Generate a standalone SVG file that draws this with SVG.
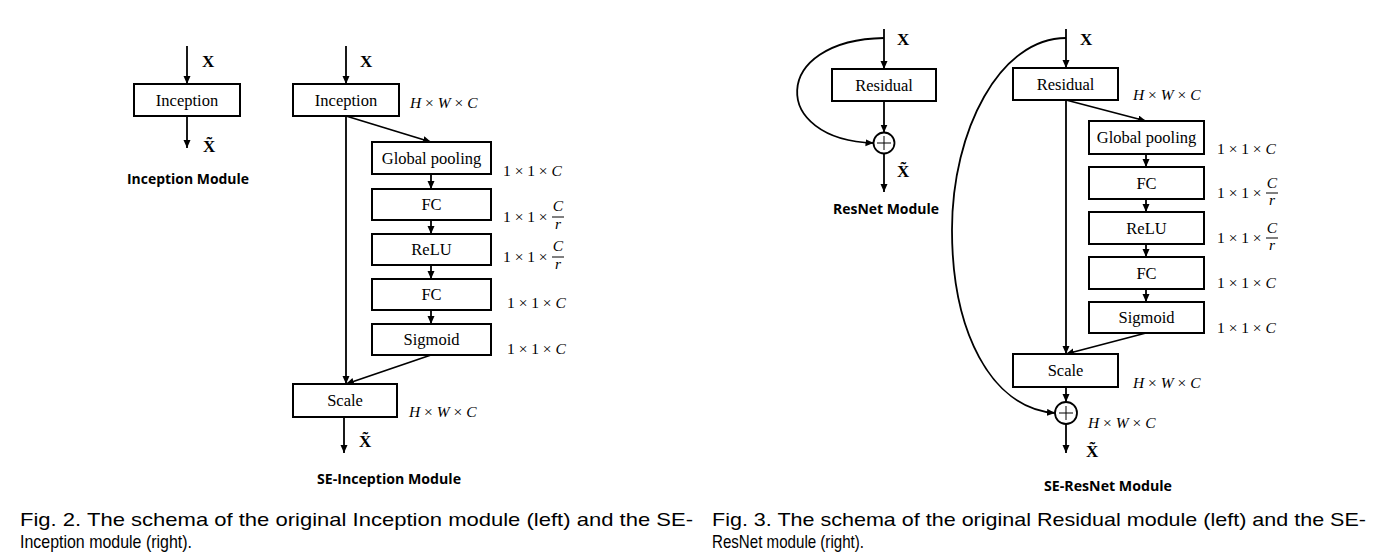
<svg xmlns="http://www.w3.org/2000/svg" width="1386" height="558" viewBox="0 0 1386 558">
<defs>
<marker id="ah" markerUnits="userSpaceOnUse" markerWidth="9" markerHeight="8" refX="8" refY="3.5" orient="auto">
<path d="M0,0 L8,3.5 L0,7 z" fill="#000"/>
</marker>
<style>
.box{fill:#fff;stroke:#000;stroke-width:2}
.lbl{font-family:"Liberation Serif","Times New Roman",serif;font-size:16.5px;text-anchor:middle;fill:#000}
.conn path,.conn line{stroke:#000;stroke-width:1.8;fill:none}
.arr{marker-end:url(#ah)}
.X{font-family:"Liberation Serif",serif;font-weight:bold;font-size:17px;fill:#000}
.dim{font-family:"Liberation Serif",serif;font-size:15.5px;fill:#000}
.it{font-style:italic}
.mod{font-family:"Open Sans","Liberation Sans",sans-serif;font-weight:bold;font-size:14.5px;text-anchor:middle;fill:#000}
.cap{font-family:"Liberation Sans",Arial,sans-serif;font-size:19px;fill:#000}
.cap2{font-family:"Liberation Sans",Arial,sans-serif;font-size:18.5px;fill:#000}
.sum{fill:#fff;stroke:#000;stroke-width:1.8}
.plus{stroke:#000;stroke-width:1}
.frac{stroke:#000;stroke-width:1}
</style>
</defs>
<rect width="1386" height="558" fill="#fff"/>

<!-- connectors -->
<g class="conn" id="connectors">
<!-- Inception module -->
<line class="arr" x1="187" y1="46" x2="187" y2="84"/>
<line class="arr" x1="187" y1="116" x2="187" y2="148"/>
<!-- SE-Inception -->
<line class="arr" x1="346" y1="46" x2="346" y2="84"/>
<line class="arr" x1="346" y1="116" x2="346" y2="384"/>
<line class="arr" x1="346" y1="116" x2="431" y2="142"/>
<line class="arr" x1="431" y1="174" x2="431" y2="189"/>
<line class="arr" x1="431" y1="220" x2="431" y2="234"/>
<line class="arr" x1="431" y1="265" x2="431" y2="279"/>
<line class="arr" x1="431" y1="310" x2="431" y2="324"/>
<line class="arr" x1="431" y1="355" x2="346" y2="384"/>
<line class="arr" x1="344" y1="417" x2="344" y2="453"/>
<!-- ResNet -->
<line class="arr" x1="884" y1="29" x2="884" y2="69"/>
<line class="arr" x1="884" y1="101" x2="884" y2="132.5"/>
<path class="arr" d="M884,38 C770,40 770,140 873.5,143"/>
<line class="arr" x1="884" y1="153.5" x2="884" y2="192"/>
<!-- SE-ResNet -->
<line class="arr" x1="1066" y1="29" x2="1066" y2="68"/>
<line class="arr" x1="1066" y1="100" x2="1066" y2="354"/>
<line class="arr" x1="1066" y1="100" x2="1146" y2="121"/>
<line class="arr" x1="1146" y1="154" x2="1146" y2="167"/>
<line class="arr" x1="1146" y1="199" x2="1146" y2="212"/>
<line class="arr" x1="1146" y1="244" x2="1146" y2="257"/>
<line class="arr" x1="1146" y1="289" x2="1146" y2="302"/>
<line class="arr" x1="1146" y1="333" x2="1066" y2="354"/>
<line class="arr" x1="1066" y1="387" x2="1066" y2="402"/>
<path class="arr" d="M1066,38 C1000,38 952,130 952,230 C952,330 990,408 1055,413"/>
<line class="arr" x1="1066" y1="424" x2="1066" y2="453"/>
</g>

<!-- Inception module -->
<g id="inc-in"><text class="X" x="202" y="67">X</text></g>
<g id="inc-box"><rect class="box" x="134" y="84" width="106" height="32"/><text class="lbl" x="187" y="106">Inception</text></g>
<g id="inc-out"><text class="X" x="203" y="152">X̃</text></g>
<g id="inc-title"><text class="mod" x="188" y="184" textLength="122" lengthAdjust="spacingAndGlyphs">Inception Module</text></g>

<!-- SE-Inception -->
<g id="sei-in"><text class="X" x="360" y="67">X</text></g>
<g id="sei-inception"><rect class="box" x="293" y="84" width="106" height="32"/><text class="lbl" x="346" y="106">Inception</text>
<text class="dim" x="410" y="108"><tspan class="it">H</tspan> × <tspan class="it">W</tspan> × <tspan class="it">C</tspan></text></g>
<g id="sei-gp"><rect class="box" x="372" y="142" width="119" height="32"/><text class="lbl" x="431.5" y="164">Global pooling</text>
<text class="dim" x="503" y="176">1 × 1 × <tspan class="it">C</tspan></text></g>
<g id="sei-fc1"><rect class="box" x="372" y="189" width="119" height="31"/><text class="lbl" x="431.5" y="210">FC</text>
<text class="dim" x="503" y="222">1 × 1 ×</text>
<text class="dim it" x="558" y="211" text-anchor="middle">C</text>
<line class="frac" x1="552" y1="217" x2="564" y2="217"/>
<text class="dim it" x="558" y="229" text-anchor="middle">r</text></g>
<g id="sei-relu"><rect class="box" x="372" y="234" width="119" height="31"/><text class="lbl" x="431.5" y="255">ReLU</text>
<text class="dim" x="503" y="262">1 × 1 ×</text>
<text class="dim it" x="558" y="251" text-anchor="middle">C</text>
<line class="frac" x1="552" y1="257" x2="564" y2="257"/>
<text class="dim it" x="558" y="269" text-anchor="middle">r</text></g>
<g id="sei-fc2"><rect class="box" x="372" y="279" width="119" height="31"/><text class="lbl" x="431.5" y="300">FC</text>
<text class="dim" x="507" y="308">1 × 1 × <tspan class="it">C</tspan></text></g>
<g id="sei-sig"><rect class="box" x="372" y="324" width="119" height="31"/><text class="lbl" x="431.5" y="345">Sigmoid</text>
<text class="dim" x="507" y="354">1 × 1 × <tspan class="it">C</tspan></text></g>
<g id="sei-scale"><rect class="box" x="293" y="384" width="104" height="33"/><text class="lbl" x="345" y="406">Scale</text>
<text class="dim" x="409" y="417"><tspan class="it">H</tspan> × <tspan class="it">W</tspan> × <tspan class="it">C</tspan></text></g>
<g id="sei-out"><text class="X" x="359" y="447">X̃</text></g>
<g id="sei-title"><text class="mod" x="389" y="484" textLength="144" lengthAdjust="spacingAndGlyphs">SE-Inception Module</text></g>

<!-- ResNet -->
<g id="res-in"><text class="X" x="897" y="45">X</text></g>
<g id="res-box"><rect class="box" x="832" y="69" width="104" height="32"/><text class="lbl" x="884" y="91">Residual</text></g>
<g id="res-sum"><circle class="sum" cx="884" cy="143" r="10.5"/><line class="plus" x1="877" y1="143" x2="891" y2="143"/><line class="plus" x1="884" y1="136" x2="884" y2="150"/></g>
<g id="res-out"><text class="X" x="897" y="177">X̃</text></g>
<g id="res-title"><text class="mod" x="886" y="214" textLength="106" lengthAdjust="spacingAndGlyphs">ResNet Module</text></g>

<!-- SE-ResNet -->
<g id="ser-in"><text class="X" x="1080" y="45">X</text></g>
<g id="ser-res"><rect class="box" x="1013" y="68" width="105" height="32"/><text class="lbl" x="1065.5" y="90">Residual</text>
<text class="dim" x="1133" y="100"><tspan class="it">H</tspan> × <tspan class="it">W</tspan> × <tspan class="it">C</tspan></text></g>
<g id="ser-gp"><rect class="box" x="1089" y="121" width="115" height="33"/><text class="lbl" x="1146.5" y="143">Global pooling</text>
<text class="dim" x="1217" y="154">1 × 1 × <tspan class="it">C</tspan></text></g>
<g id="ser-fc1"><rect class="box" x="1089" y="167" width="115" height="32"/><text class="lbl" x="1146.5" y="189">FC</text>
<text class="dim" x="1217" y="198">1 × 1 ×</text>
<text class="dim it" x="1272" y="188" text-anchor="middle">C</text>
<line class="frac" x1="1266" y1="193" x2="1278" y2="193"/>
<text class="dim it" x="1272" y="205" text-anchor="middle">r</text></g>
<g id="ser-relu"><rect class="box" x="1089" y="212" width="115" height="32"/><text class="lbl" x="1146.5" y="234">ReLU</text>
<text class="dim" x="1217" y="243">1 × 1 ×</text>
<text class="dim it" x="1272" y="233" text-anchor="middle">C</text>
<line class="frac" x1="1266" y1="238" x2="1278" y2="238"/>
<text class="dim it" x="1272" y="250" text-anchor="middle">r</text></g>
<g id="ser-fc2"><rect class="box" x="1089" y="257" width="115" height="32"/><text class="lbl" x="1146.5" y="279">FC</text>
<text class="dim" x="1217" y="288">1 × 1 × <tspan class="it">C</tspan></text></g>
<g id="ser-sig"><rect class="box" x="1089" y="302" width="115" height="31"/><text class="lbl" x="1146.5" y="323">Sigmoid</text>
<text class="dim" x="1217" y="333">1 × 1 × <tspan class="it">C</tspan></text></g>
<g id="ser-scale"><rect class="box" x="1013" y="354" width="105" height="33"/><text class="lbl" x="1065.5" y="376">Scale</text>
<text class="dim" x="1133" y="388"><tspan class="it">H</tspan> × <tspan class="it">W</tspan> × <tspan class="it">C</tspan></text></g>
<g id="ser-sum"><circle class="sum" cx="1066" cy="413" r="11"/><line class="plus" x1="1059" y1="413" x2="1073" y2="413"/><line class="plus" x1="1066" y1="406" x2="1066" y2="420"/>
<text class="dim" x="1088" y="428"><tspan class="it">H</tspan> × <tspan class="it">W</tspan> × <tspan class="it">C</tspan></text></g>
<g id="ser-out"><text class="X" x="1086" y="457">X̃</text></g>
<g id="ser-title"><text class="mod" x="1108" y="491" textLength="128" lengthAdjust="spacingAndGlyphs">SE-ResNet Module</text></g>

<!-- captions -->
<g id="caption-fig2">
<text class="cap" x="20" y="526" textLength="673" lengthAdjust="spacingAndGlyphs">Fig. 2. The schema of the original Inception module (left) and the SE-</text>
<text class="cap2" x="20" y="548" textLength="172" lengthAdjust="spacingAndGlyphs">Inception module (right).</text>
</g>
<g id="caption-fig3">
<text class="cap" x="712" y="526" textLength="654" lengthAdjust="spacingAndGlyphs">Fig. 3. The schema of the original Residual module (left) and the SE-</text>
<text class="cap2" x="712" y="548" textLength="152" lengthAdjust="spacingAndGlyphs">ResNet module (right).</text>
</g>
</svg>
